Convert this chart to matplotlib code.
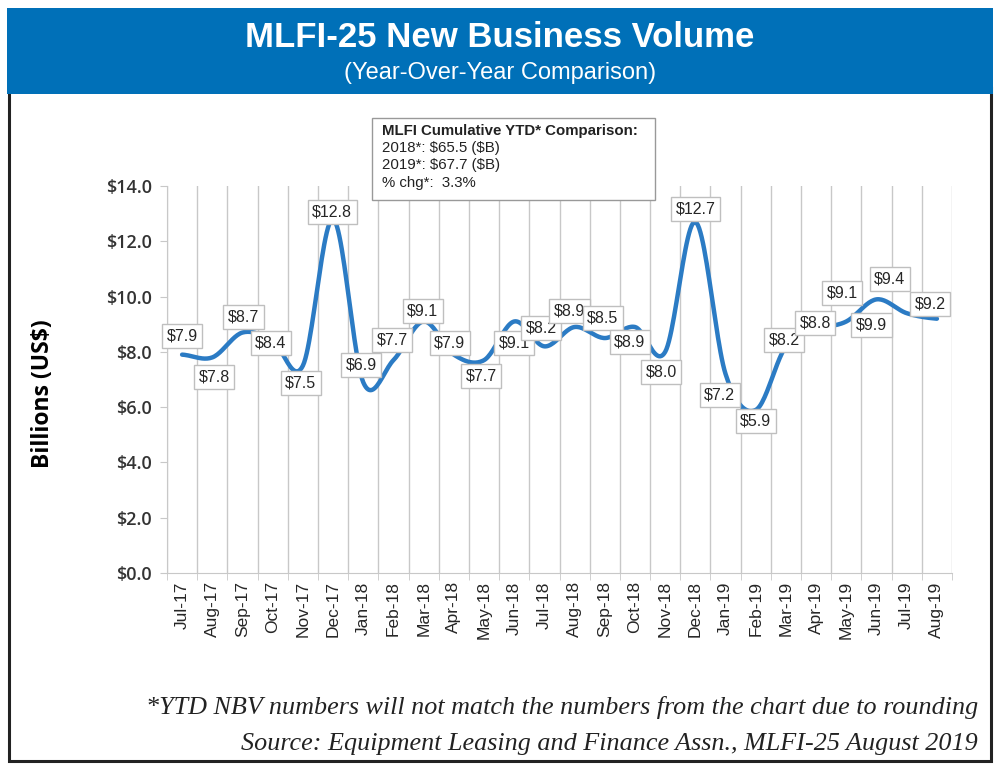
"""MLFI-25 new business volume, year-over-year line chart."""

import numpy as np
import matplotlib.pyplot as plt
from matplotlib.patches import Rectangle

plt.rcParams["text.parse_math"] = False

months = [
    "Jul-17", "Aug-17", "Sep-17", "Oct-17", "Nov-17", "Dec-17", "Jan-18",
    "Feb-18", "Mar-18", "Apr-18", "May-18", "Jun-18", "Jul-18", "Aug-18",
    "Sep-18", "Oct-18", "Nov-18", "Dec-18", "Jan-19", "Feb-19", "Mar-19",
    "Apr-19", "May-19", "Jun-19", "Jul-19", "Aug-19",
]
volume = [
    7.9, 7.8, 8.7, 8.4, 7.5, 12.8, 6.9, 7.7, 9.1, 7.9, 7.7, 9.1, 8.2,
    8.9, 8.5, 8.9, 8.0, 12.7, 7.2, 5.9, 8.2, 8.8, 9.1, 9.9, 9.4, 9.2,
]
# Data labels as printed on the original chart (some sit on a neighbour)
point_labels = [
    "$7.9", "$7.8", "$8.7", "$8.4", "$7.5", "$12.8", "$6.9", "$7.7", "$9.1",
    "$7.9", "$7.7", "$9.1", "$8.2", "$8.9", "$8.5", "$8.9", "$8.0", "$12.7",
    "$7.2", "$5.9", "$8.2", "$8.8", "$9.1", "$9.9", "$9.4", "$9.2",
]
y_ticks = [0, 2, 4, 6, 8, 10, 12, 14]

ytd_title = "MLFI Cumulative YTD* Comparison:"
ytd_lines = ["2018*: $65.5 ($B)", "2019*: $67.7 ($B)", "% chg*:  3.3%"]

# Label box offsets from each point, in pixels (style, not data)
label_offsets = [
    (0, 19), (2, -20), (1, 16), (-2, -2), (-2, -17), (-1, 7), (-2, 17),
    (-1, 20), (-1, 10), (-4, 12), (-3, -16), (0, -22), (-3, 18), (-5, 16),
    (-2, 20), (-5, -15), (-4, -20), (0, 13), (-6, -21), (0, -11), (-2, 6),
    (-1, 7), (-4, 28), (-5, -26), (-17, 34), (-7, 15),
]

BLUE = "#0070b8"
LINE = "#2b7bc4"
GRID = "#c8c8c8"
TEXT = "#333333"


def smooth_curve(x, y, steps=24, tension=0.5):
    """Catmull-Rom style smoothing like Excel's smoothed line."""
    x = np.asarray(x, float)
    y = np.asarray(y, float)
    px = np.concatenate([[x[0]], x, [x[-1]]])
    py = np.concatenate([[y[0]], y, [y[-1]]])
    xs, ys = [], []
    t = np.linspace(0, 1, steps, endpoint=False)
    for i in range(1, len(px) - 2):
        p0, p1, p2, p3 = py[i - 1], py[i], py[i + 1], py[i + 2]
        m1 = tension * (p2 - p0)
        m2 = tension * (p3 - p1)
        h00 = 2 * t**3 - 3 * t**2 + 1
        h10 = t**3 - 2 * t**2 + t
        h01 = -2 * t**3 + 3 * t**2
        h11 = t**3 - t**2
        xs.append(px[i] + t * (px[i + 1] - px[i]))
        ys.append(h00 * p1 + h10 * m1 + h01 * p2 + h11 * m2)
    xs.append([x[-1]])
    ys.append([y[-1]])
    return np.concatenate(xs), np.concatenate(ys)


fig = plt.figure(figsize=(10, 7.64), dpi=100)

# Title banner and outer frame, kept behind the axes
fig.patches.append(Rectangle((0.009, 0.0045), 0.982, 0.88, transform=fig.transFigure,
                             facecolor="white", edgecolor="#222222", linewidth=2.2,
                             zorder=-5))
fig.patches.append(Rectangle((0.007, 0.877), 0.986, 0.113, transform=fig.transFigure,
                             facecolor=BLUE, edgecolor="none", zorder=-4))
fig.text(0.5, 0.951, "MLFI-25 New Business Volume", ha="center", va="center",
         color="white", fontsize=25, fontweight="bold",
         family=["Liberation Sans Narrow", "Liberation Sans"])
fig.text(0.5, 0.905, "(Year-Over-Year Comparison)", ha="center", va="center",
         color="white", fontsize=17, family=["Liberation Sans Narrow", "Liberation Sans"])

ax = fig.add_axes([0.167, 0.25, 0.785, 0.5065])
x = np.arange(len(months))
sx, sy = smooth_curve(x, volume)
ax.plot(sx, sy, color=LINE, linewidth=3.2, solid_capstyle="round", zorder=3)

for xi, yi, lab, (dx, dy) in zip(x, volume, point_labels, label_offsets):
    ax.annotate(lab, (xi, yi), xytext=(dx, dy), textcoords="offset pixels",
                ha="center", va="center", fontsize=11.5, color="#262626",
                family="Liberation Sans", zorder=5,
                bbox=dict(boxstyle="square,pad=0.28", facecolor="white",
                          edgecolor="#bfbfbf", linewidth=1))

ax.set_xlim(-0.5, len(months) - 0.5)
ax.set_ylim(0, 14)
ax.set_xticks(x)
ax.set_xticklabels(months, rotation=90, fontsize=12.5, color="#262626",
                   family="Liberation Sans")
ax.set_xticks(np.arange(len(months) + 1) - 0.5, minor=True)
ax.grid(True, which="minor", axis="x", color=GRID, linewidth=1)
ax.tick_params(axis="x", which="major", length=0, pad=6)
ax.tick_params(axis="x", which="minor", length=5, color=GRID)
ax.set_yticks(y_ticks)
ax.set_yticklabels([f"${v:.1f}" for v in y_ticks], fontsize=13, color=TEXT,
                   family="Open Sans", fontweight="semibold")
ax.tick_params(axis="y", length=5, color=GRID, pad=6)
for side in ["top", "right"]:
    ax.spines[side].set_visible(False)
for side in ["left", "bottom"]:
    ax.spines[side].set_color(GRID)
ax.set_ylabel("Billions (US$)", fontsize=16.5, fontweight="bold", color="black",
              family="Open Sans")
ax.yaxis.set_label_coords(-0.143, 0.463)

# Cumulative YTD comparison box
fig.patches.append(Rectangle((0.372, 0.738), 0.283, 0.107, transform=fig.transFigure,
                             facecolor="white", edgecolor="#999999", linewidth=1,
                             zorder=10))
fig.text(0.382, 0.8285, ytd_title, fontsize=10.8, fontweight="bold", color="#222222",
         va="center", family="Liberation Sans", zorder=11)
for k, line in enumerate(ytd_lines):
    fig.text(0.382, 0.806 - k * 0.0225, line, fontsize=10.8, color="#222222",
             va="center", family="Liberation Sans", zorder=11)

# Footnotes
fig.text(0.978, 0.0735, "*YTD NBV numbers will not match the numbers from the chart due to rounding",
         ha="right", va="center", fontsize=18.8, style="italic", color="#222222",
         family="Liberation Serif")
fig.text(0.978, 0.026, "Source: Equipment Leasing and Finance Assn., MLFI-25 August 2019",
         ha="right", va="center", fontsize=18.8, style="italic", color="#222222",
         family="Liberation Serif")

fig.savefig("out.png", dpi=100)
